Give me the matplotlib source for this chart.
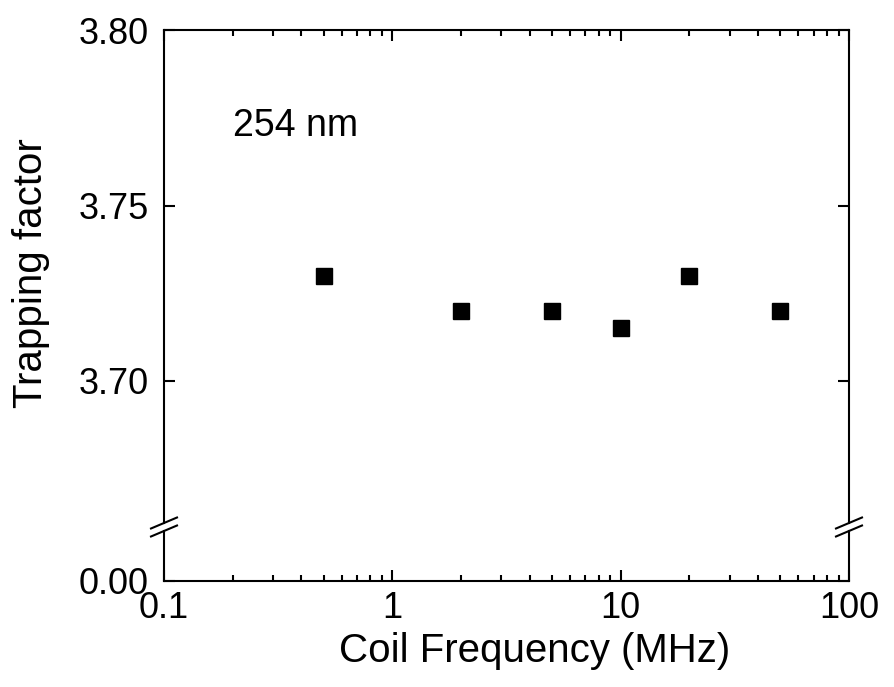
import matplotlib
matplotlib.use("Agg")
import matplotlib.pyplot as plt
from matplotlib.lines import Line2D
from matplotlib.ticker import LogLocator, NullFormatter, FixedLocator

plt.rcParams['font.family'] = ['Liberation Sans', 'DejaVu Sans']

freq = [0.5, 2, 5, 10, 20, 50]
trap = [3.730, 3.720, 3.720, 3.715, 3.730, 3.720]
xticks = [0.1, 1, 10, 100]
xticklabels = ["0.1", "1", "10", "100"]
yticks_up = [3.70, 3.75, 3.80]
yticklabels_up = ["3.70", "3.75", "3.80"]
yticks_low = [0.0]
yticklabels_low = ["0.00"]

W, H = 895, 687
fig = plt.figure(figsize=(W / 100, H / 100), dpi=100)

L, R = 164, 849
T, Bu, Tl, B = 30, 523, 531, 581

def fx(px):
    return px / W

def fy(py):
    return 1 - py / H

ax_up = fig.add_axes([fx(L), fy(Bu), fx(R) - fx(L), fy(T) - fy(Bu)])
ax_lo = fig.add_axes([fx(L), fy(B), fx(R) - fx(L), fy(Tl) - fy(B)], sharex=ax_up)

lw = 1.5
for ax in (ax_up, ax_lo):
    ax.set_xscale('log')
    for s in ax.spines.values():
        s.set_linewidth(lw)
    ax.tick_params(axis='both', which='major', direction='in', length=8, width=lw,
                   labelsize=26)
    ax.tick_params(axis='both', which='minor', direction='in', length=4, width=lw)

ax_up.set_xlim(0.1, 100)
ax_up.set_ylim(3.80 - (Bu - T) / 3510.0, 3.80)
ax_lo.set_ylim(0, (B - Tl) / 3510.0)

ax_up.plot(freq, trap, linestyle='none', marker='s', markersize=12,
           color='black')

# upper axes
ax_up.spines['bottom'].set_visible(False)
ax_up.xaxis.set_major_locator(FixedLocator(xticks))
ax_up.xaxis.set_minor_locator(LogLocator(base=10, subs=range(2, 10)))
ax_up.xaxis.set_minor_formatter(NullFormatter())
ax_up.tick_params(axis='x', which='both', bottom=False, top=True,
                  labelbottom=False, labeltop=False)
ax_up.set_yticks(yticks_up)
ax_up.set_yticklabels(yticklabels_up)
ax_up.tick_params(axis='y', which='both', left=True, right=True, pad=11)

# lower axes
ax_lo.spines['top'].set_visible(False)
ax_lo.set_xticks(xticks)
ax_lo.set_xticklabels(xticklabels)
ax_lo.xaxis.set_minor_locator(LogLocator(base=10, subs=range(2, 10)))
ax_lo.xaxis.set_minor_formatter(NullFormatter())
ax_lo.tick_params(axis='x', which='both', bottom=True, top=False, pad=7)
ax_lo.set_yticks(yticks_low)
ax_lo.set_yticklabels(yticklabels_low)
ax_lo.tick_params(axis='y', which='both', left=True, right=True, pad=11)

ax_up.set_ylabel("Trapping factor", fontsize=29)
ax_up.yaxis.set_label_coords((50 - L) / (R - L), 0.507)
ax_lo.set_xlabel("Coil Frequency (MHz)", fontsize=29)
ax_lo.xaxis.set_label_coords((535 - L) / (R - L), (B - 632) / (B - Tl))

ax_up.text((233 - L) / (R - L), (Bu - 126) / (Bu - T), "254 nm", fontsize=27,
           transform=ax_up.transAxes, ha='left', va='center')

# break marks
for xs in (L, R):
    for ys in (Bu, Tl):
        fig.add_artist(Line2D([fx(xs - 13), fx(xs + 13)],
                              [fy(ys + 5.5), fy(ys - 5.5)],
                              color='black', linewidth=lw,
                              transform=fig.transFigure))

fig.savefig("out.png", dpi=100)
